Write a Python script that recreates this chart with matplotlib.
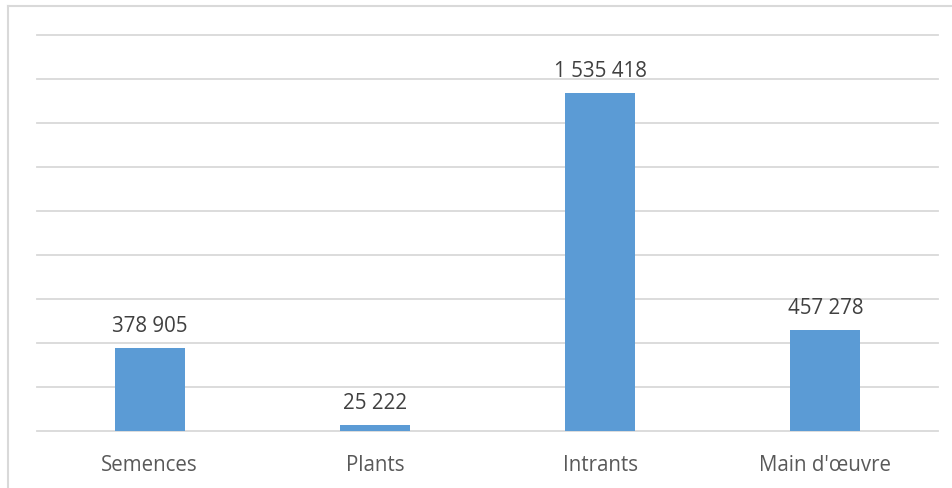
import matplotlib.pyplot as plt
from matplotlib.lines import Line2D

categories = ["Semences", "Plants", "Intrants", "Main d'\u0153uvre"]
values = [378905, 25222, 1535418, 457278]
labels = ["378 905", "25 222", "1 535 418", "457 278"]

plt.rcParams['font.family'] = ['Open Sans', 'DejaVu Sans']

fig = plt.figure(figsize=(9.53, 4.88), dpi=100)
ax = fig.add_axes([37 / 953, 1 - 431 / 488, (938 - 37) / 953, (431 - 35) / 488])

x = range(len(categories))
ax.bar(x, values, width=0.31, color="#5B9BD5", zorder=3)
ax.set_xlim(-0.5, len(categories) - 0.5)
ax.set_ylim(0, 1800000)
ax.set_yticks(range(0, 1800001, 200000))
ax.set_yticklabels([])
ax.tick_params(axis="y", length=0)
ax.tick_params(axis="x", length=0, pad=17, labelsize=14.8, labelcolor="#595959")
ax.set_xticks(list(x))
ax.set_xticklabels(categories)
ax.grid(axis="y", color="#D9D9D9", linewidth=1.3, zorder=0)
for gl in ax.get_ygridlines():
    gl.set_clip_on(False)
for s in ax.spines.values():
    s.set_visible(False)

for xi, v, lab in zip(x, values, labels):
    ax.annotate(lab, (xi, v), xytext=(0, 8), textcoords="offset points",
                ha="center", va="bottom", fontsize=14.8, color="#404040")

# outer border (left and top only, rest is cut off)
fig.add_artist(Line2D([8 / 953, 8 / 953], [0, 1 - 6 / 488], color="#D9D9D9", lw=1.5, transform=fig.transFigure))
fig.add_artist(Line2D([8 / 953, 1], [1 - 6 / 488, 1 - 6 / 488], color="#D9D9D9", lw=1.5, transform=fig.transFigure))

fig.savefig("out.png", dpi=100)
